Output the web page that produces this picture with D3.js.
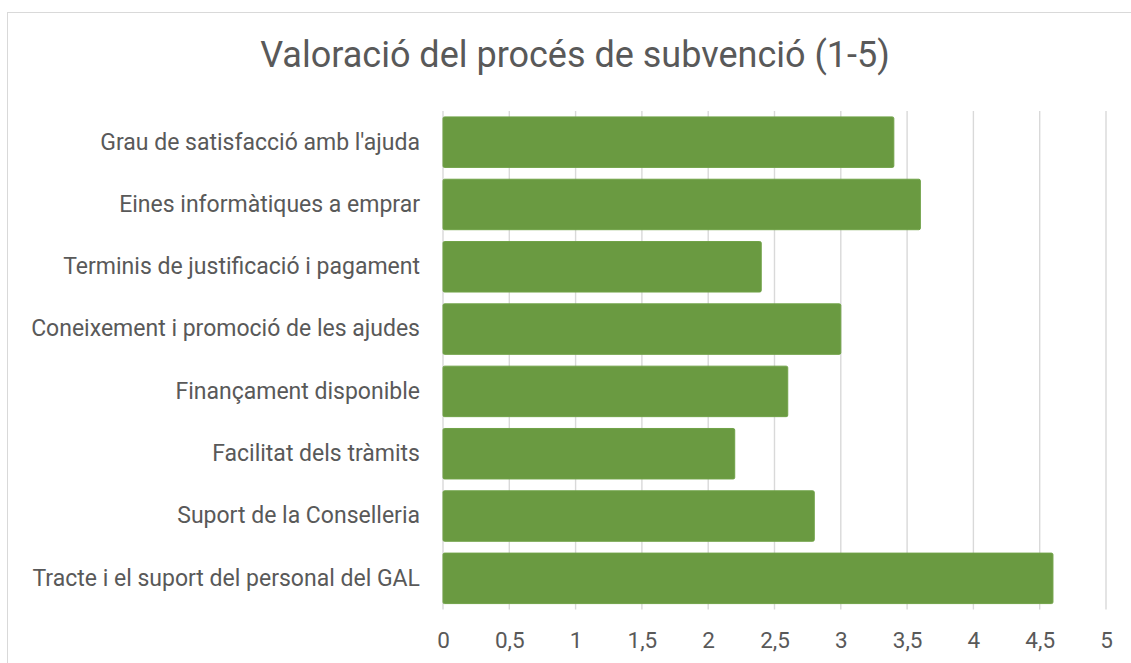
<!DOCTYPE html>
<html>
<head>
<meta charset="utf-8">
<script src="https://cdn.jsdelivr.net/npm/d3@7"></script>
<style>
  html, body { margin: 0; padding: 0; background: #fff; }
  svg { display: block; }
</style>
</head>
<body>
<svg id="chart" width="1131" height="663"></svg>
<script>
// Survey ratings of the grant process (scale 1-5)
const categories = [
  "Grau de satisfacció amb l'ajuda",
  "Eines informàtiques a emprar",
  "Terminis de justificació i pagament",
  "Coneixement i promoció de les ajudes",
  "Finançament disponible",
  "Facilitat dels tràmits",
  "Suport de la Conselleria",
  "Tracte i el suport del personal del GAL"
];
const values = [3.4, 3.6, 2.4, 3.0, 2.6, 2.2, 2.8, 4.6];
const tickValues = [0, 0.5, 1, 1.5, 2, 2.5, 3, 3.5, 4, 4.5, 5];
const tickLabels = ["0", "0,5", "1", "1,5", "2", "2,5", "3", "3,5", "4", "4,5", "5"];
const title = "Valoració del procés de subvenció (1-5)";

const svg = d3.select("#chart");
const font = "Roboto, 'Open Sans', sans-serif";
const textColor = "#595959";

// chart frame
svg.append("rect")
  .attr("x", 7.5).attr("y", 12.5)
  .attr("width", 1140).attr("height", 680)
  .attr("fill", "#fff")
  .attr("stroke", "#d9d9d9").attr("stroke-width", 1);

const plot = { left: 443, right: 1106, top: 111, bottom: 609.5 };

const x = d3.scaleLinear().domain([0, 5]).range([plot.left, plot.right]);
const y = d3.scaleBand().domain(categories).range([plot.top, plot.bottom])
  .paddingInner(0.19).paddingOuter(0.095);

// vertical gridlines
svg.append("g")
  .selectAll("line")
  .data(tickValues)
  .join("line")
  .attr("x1", d => x(d)).attr("x2", d => x(d))
  .attr("y1", plot.top).attr("y2", plot.bottom)
  .attr("stroke", "#d9d9d9").attr("stroke-width", 1.4);

// bars
svg.append("g")
  .selectAll("rect")
  .data(values)
  .join("rect")
  .attr("x", x(0))
  .attr("y", (d, i) => y(categories[i]))
  .attr("width", d => x(d) - x(0))
  .attr("height", y.bandwidth())
  .attr("rx", 1.5)
  .attr("fill", "#6a9a41")
  .attr("stroke", "#70a247").attr("stroke-width", 1);

// x axis labels
const xAxis = d3.axisBottom(x)
  .tickValues(tickValues)
  .tickFormat((d, i) => tickLabels[i])
  .tickSize(0).tickPadding(0);
const gx = svg.append("g")
  .attr("transform", `translate(0, ${plot.bottom + 23})`)
  .call(xAxis);
gx.select(".domain").remove();
gx.selectAll("text")
  .attr("dy", "0.71em")
  .attr("fill", textColor)
  .style("font-family", font)
  .style("font-size", "22.5px");

// category labels
const yAxis = d3.axisLeft(y).tickSize(0).tickPadding(23);
const gy = svg.append("g")
  .attr("transform", `translate(${plot.left}, 0)`)
  .call(yAxis);
gy.select(".domain").remove();
gy.selectAll("text")
  .attr("fill", textColor)
  .style("font-family", font)
  .style("font-size", "23px");

// title
svg.append("text")
  .attr("x", 575).attr("y", 67)
  .attr("text-anchor", "middle")
  .attr("fill", textColor)
  .style("font-family", font)
  .style("font-size", "36px")
  .text(title);
</script>
</body>
</html>
